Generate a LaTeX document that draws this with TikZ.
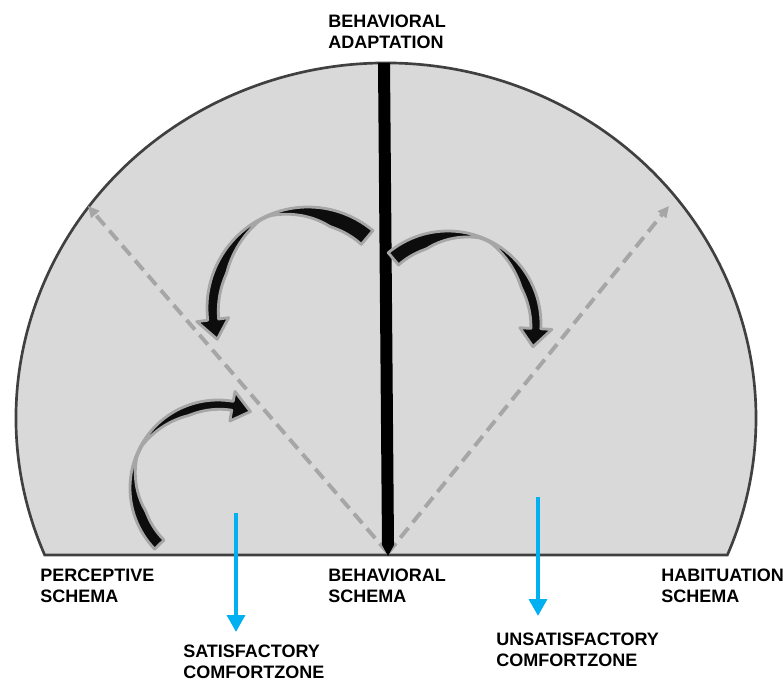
\documentclass[tikz,border=0pt]{standalone}
\usepackage{fontspec}
\setmainfont{Liberation Sans}
\usetikzlibrary{arrows.meta}

\definecolor{domefill}{HTML}{D9D9D9}
\definecolor{domeline}{HTML}{404040}
\definecolor{guidegray}{HTML}{A6A6A6}
\definecolor{zoneblue}{HTML}{00B0F0}

% width of a ribbon arrow along its length (t from tail to neck),
% thinning out where the ribbon twists
\pgfmathdeclarefunction{rw}{3}{%
  \pgfmathparse{max(1.2, (#2+(#3-#2)*#1)*min(1, abs(#1-0.48)/0.3))}%
}

\tikzset{
  lbl/.style={font=\fontsize{12.8}{15}\selectfont\bfseries, align=left,
    anchor=north west, inner sep=0pt},
  guide/.style={guidegray, line width=2.8pt, dash pattern=on 9pt off 5pt,
    -{Triangle[length=8pt, width=7.5pt]}},
  zone/.style={zoneblue, line width=3.4pt, -{Triangle[length=12pt, width=12.5pt]}},
  ribbon/.style={fill=black!95, draw=guidegray, line width=2pt, line join=round},
}

% centre x, centre y, radius, tail angle, neck angle, tip angle,
% tail width, neck width, head half width
\newcommand{\ribbonarrow}[9]{%
  \filldraw[ribbon]
    plot[domain=0:1, samples=50]
      ({#1+(#3+5)*cos(#4+(#5-#4)*\x)},
       {#2+(#3+5)*sin(#4+(#5-#4)*\x)})
    -- ({#1+(#3+#9)*cos(#5)}, {#2+(#3+#9)*sin(#5)})
    -- ({#1+#3*cos(#6)}, {#2+#3*sin(#6)})
    -- ({#1+(#3-#9)*cos(#5)}, {#2+(#3-#9)*sin(#5)})
    -- plot[domain=0:1, samples=50]
      ({#1+(#3+5-rw(1-\x,#7,#8))*cos(#4+(#5-#4)*(1-\x))},
       {#2+(#3+5-rw(1-\x,#7,#8))*sin(#4+(#5-#4)*(1-\x))})
    -- cycle;}

\begin{document}
\begin{tikzpicture}[x=0.025cm, y=-0.025cm]
  \useasboundingbox (0,0) rectangle (783,681);

  % dome
  \filldraw[fill=domefill, draw=domeline, line width=1.9pt]
    (44.7,555) arc[start angle=157.3, end angle=382.7, x radius=370, y radius=355]
    -- cycle;

  % key points
  \coordinate (base) at (388,553);
  \coordinate (pTip) at (88,206);
  \coordinate (hTip) at (669,206);
  \coordinate (satTop) at (236,513);
  \coordinate (satEnd) at (236,632);
  \coordinate (unsTop) at (538,497);
  \coordinate (unsEnd) at (538,616);

  % dashed guides
  \draw[guide] (base) -- (pTip);
  \draw[guide] (base) -- (hTip);

  % central bar
  \fill[black] (378,63) -- (390,63) -- (394,545) -- (388,556)
    -- (382,545) -- cycle;

  % curved arrows
  \ribbonarrow{308}{308}{96}{-50}{-187}{-199}{18}{11}{16}
  \ribbonarrow{448}{324}{88}{-130}{3}{15}{16}{10}{16}
  \ribbonarrow{218}{488}{83}{136}{280}{293}{13}{9}{15}

  % comfort zones
  \draw[zone] (satTop) -- (satEnd);
  \draw[zone] (unsTop) -- (unsEnd);

  % labels
  \node[lbl] (adapt) at (328,15) {BEHAVIORAL\\ADAPTATION};
  \node[lbl] (percept) at (40,569) {PERCEPTIVE\\SCHEMA};
  \node[lbl] (behav) at (328,569) {BEHAVIORAL\\SCHEMA};
  \node[lbl] (habit) at (661,569) {HABITUATION\\SCHEMA};
  \node[lbl] (satis) at (183,645) {SATISFACTORY\\COMFORTZONE};
  \node[lbl] (unsatis) at (496,633) {UNSATISFACTORY\\COMFORTZONE};
\end{tikzpicture}
\end{document}
